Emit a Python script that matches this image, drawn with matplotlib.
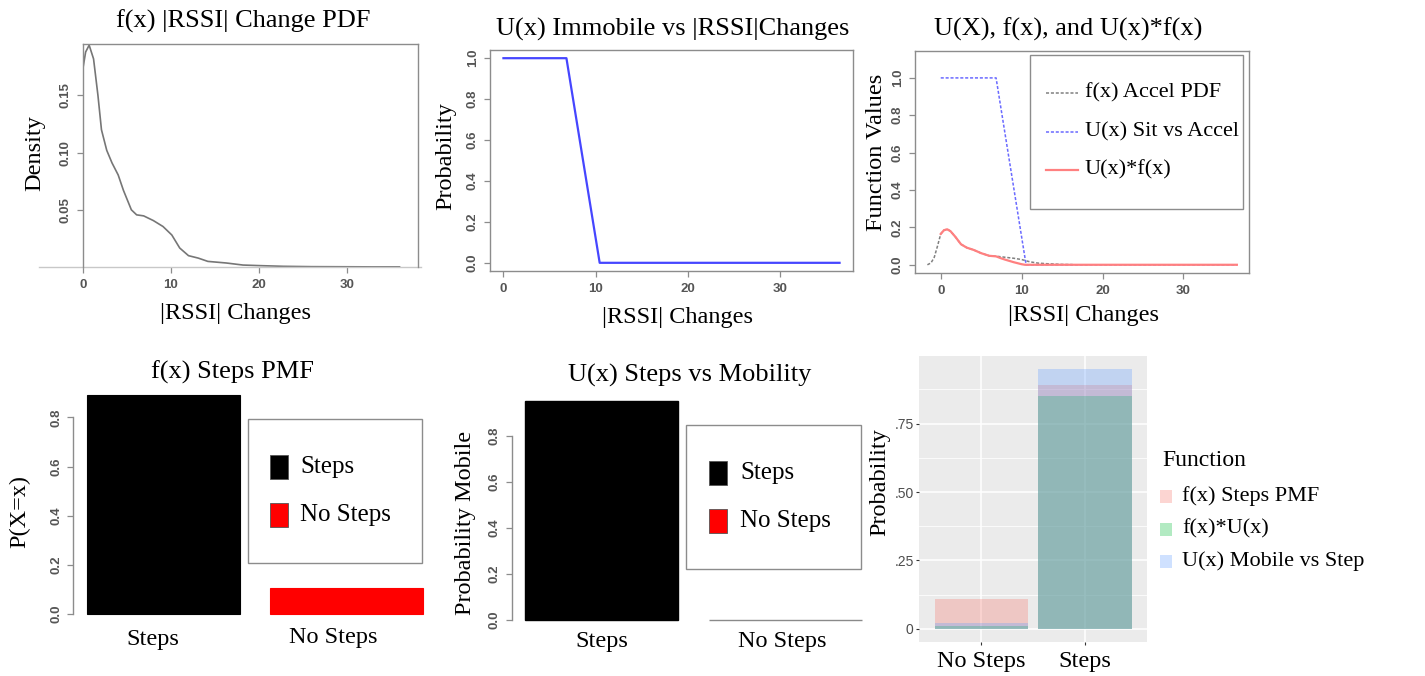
import numpy as np
import matplotlib.pyplot as plt
from matplotlib.patches import Rectangle
from matplotlib.lines import Line2D

W, H = 1425, 676
SERIF = ['Liberation Serif', 'DejaVu Serif']
SANS = ['Liberation Sans', 'DejaVu Sans']

# ---- |RSSI| change density ----
rssi_x = [0.0, 0.3, 0.7, 1.2, 1.7, 2.1, 2.7, 3.3, 4.0, 4.6, 5.5, 6.1, 6.9,
          8.0, 9.1, 10.1, 11.0, 12.0, 13.1, 14.2, 16.3, 18.2, 20.1, 22.8,
          26.0, 30.0, 33.0, 36.0]
rssi_density = [0.174, 0.188, 0.194, 0.182, 0.150, 0.120, 0.102, 0.091,
                0.0805, 0.067, 0.050, 0.0456, 0.0447, 0.0406, 0.0354, 0.028,
                0.0166, 0.0099, 0.0078, 0.0049, 0.0035, 0.0017, 0.0012,
                0.0006, 0.0003, 0.0002, 0.0001, 0.0001]

# ---- U(x) immobile vs |RSSI| changes ----
immobile_x = [0.0, 6.84, 10.45, 36.5]
immobile_p = [1.0, 1.0, 0.0, 0.0]

# ---- accel PDF, U(x) sit vs accel, and their product ----
accel_x = [-1.65, -1.2, -0.8, -0.4, 0.0, 0.4, 0.8, 1.2, 1.8, 2.5, 3.2, 4.1,
           5.0, 6.0, 7.0, 8.0, 9.0, 10.0, 11.0, 12.0, 13.0, 14.0, 15.0, 16.3]
accel_pdf = [0.0, 0.01, 0.04, 0.10, 0.165, 0.185, 0.19, 0.18, 0.15, 0.11,
             0.092, 0.079, 0.062, 0.048, 0.045, 0.040, 0.035, 0.028, 0.016,
             0.009, 0.006, 0.004, 0.002, 0.001]
sit_x = [0.0, 6.84, 10.55, 36.6]
sit_p = [1.0, 1.0, 0.0, 0.0]
prod_x = [0.0, 0.4, 0.8, 1.2, 1.8, 2.5, 3.2, 4.1, 5.0, 6.0, 6.84, 7.5, 8.0,
          9.0, 10.0, 10.4, 36.6]
prod_val = [0.165, 0.185, 0.19, 0.18, 0.15, 0.11, 0.092, 0.079, 0.062,
            0.048, 0.045, 0.034, 0.027, 0.014, 0.003, 0.0, 0.0]

# ---- steps PMF / mobility ----
step_cats = ['Steps', 'No Steps']
step_colors = ['black', 'red']
step_pmf = [0.892, 0.108]
step_mobile = [0.952, 0.0]

# ---- combined functions ----
func_cats = ['No Steps', 'Steps']
func_names = ['f(x) Steps PMF', 'f(x)*U(x)', 'U(x) Mobile vs Step']
func_colors = ['#F8766D', '#00BA38', '#619CFF']
func_pmf = [0.11, 0.89]
func_prod = [0.011, 0.85]
func_mobile = [0.022, 0.95]


def rect(l, t, r, b):
    return [l / W, 1 - b / H, (r - l) / W, (b - t) / H]


def ftext(x, y, s, size=17.5, **kw):
    fig.text(x / W, 1 - y / H, s, fontsize=size, family=SERIF,
             ha=kw.pop('ha', 'center'), va=kw.pop('va', 'center'), **kw)


def r_style(ax, box=True):
    for sp in ax.spines.values():
        sp.set_color('#8c8c8c')
        sp.set_linewidth(1.0)
        sp.set_visible(box)
    ax.tick_params(axis='both', colors='#8c8c8c', labelcolor='#555555',
                   labelsize=9.5, length=4, width=0.9, direction='out')
    ax.tick_params(axis='y', labelrotation=90, pad=4)
    ax.tick_params(axis='x', pad=5)
    for lab in ax.get_xticklabels() + ax.get_yticklabels():
        lab.set_family(SANS)
        lab.set_fontweight('bold')
    for lab in ax.get_yticklabels():
        lab.set_va('center')


fig = plt.figure(figsize=(W / 100, H / 100), dpi=100)

# Panel 1: density of |RSSI| changes
ax1 = fig.add_axes(rect(83, 44, 418, 267))
ax1.plot(rssi_x, rssi_density, color='#767676', lw=1.2)
ax1.axhline(0, xmin=-0.13, xmax=1.01, color='#c8c8c8', lw=1.0, clip_on=False)
ax1.set_xlim(0, 38.1)
ax1.set_ylim(0, 0.195)
ax1.set_xticks([0, 10, 20, 30])
ax1.set_yticks([0.05, 0.10, 0.15])
ax1.set_yticklabels(['0.05', '0.10', '0.15'])
r_style(ax1)
ax1.spines['bottom'].set_visible(False)
ftext(243, 21, 'f(x) |RSSI| Change PDF', size=19)
ftext(235, 313, '|RSSI| Changes')
ftext(35, 153, 'Density', rotation=90)

# Panel 2: U(x) immobile
ax2 = fig.add_axes(rect(490, 50, 853, 271))
ax2.plot(immobile_x, immobile_p, color='#4646ff', lw=1.6)
ax2.set_xlim(-1.46, 37.96)
ax2.set_ylim(-0.04, 1.04)
ax2.set_xticks([0, 10, 20, 30])
ax2.set_yticks([0, 0.2, 0.4, 0.6, 0.8, 1.0])
ax2.set_yticklabels(['0.0', '0.2', '0.4', '0.6', '0.8', '1.0'])
r_style(ax2)
ftext(673, 29, 'U(x) Immobile vs |RSSI|Changes', size=19)
ftext(677, 317, '|RSSI| Changes')
ftext(446, 156, 'Probability', rotation=90)

# Panel 3: U(X), f(x) and the product
ax3 = fig.add_axes(rect(915, 51, 1249, 273))
ax3.plot(accel_x, accel_pdf, color='#808080', lw=1.1, ls=(0, (2, 1.2)))
ax3.plot(sit_x, sit_p, color='#6a6aff', lw=1.1, ls=(0, (2, 1.2)))
ax3.plot(prod_x, prod_val, color='#ff8080', lw=1.6)
ax3.set_xlim(-3.18, 38.1)
ax3.set_ylim(-0.044, 1.144)
ax3.set_xticks([0, 10, 20, 30])
ax3.set_yticks([0, 0.2, 0.4, 0.6, 0.8, 1.0])
ax3.set_yticklabels(['0.0', '0.2', '0.4', '0.6', '0.8', '1.0'])
r_style(ax3)
ftext(1068, 29, 'U(X), f(x), and U(x)*f(x)', size=19)
ftext(1083, 316, '|RSSI| Changes')
ftext(876, 152, 'Function Values', rotation=90)

# Panel 4: steps PMF
ax4 = fig.add_axes(rect(73.2, 386, 436.8, 623))
ax4.bar([0.7, 1.9], step_pmf, width=1.0, color=step_colors,
        edgecolor=step_colors, lw=0.8)
ax4.set_xlim(0.112, 2.488)
ax4.set_ylim(-0.0357, 0.928)
ax4.set_xticks([])
ax4.set_yticks([0, 0.2, 0.4, 0.6, 0.8])
ax4.set_yticklabels(['0.0', '0.2', '0.4', '0.6', '0.8'])
r_style(ax4, box=False)
ax4.spines['left'].set_visible(True)
ax4.spines['left'].set_bounds(0, 0.8)
ax4.patch.set_alpha(0)
ftext(233, 372, 'f(x) Steps PMF', size=19)
ftext(20, 511, 'P(X=x)', rotation=90)
ftext(153, 640, step_cats[0])
ftext(333, 638, step_cats[1])

# Panel 5: U(x) steps vs mobility
ax5 = fig.add_axes(rect(511.5, 391.9, 875.8, 628.8))
ax5.bar([0.7, 1.9], step_mobile, width=1.0, color=step_colors,
        edgecolor=['black', '#8a8a8a'], lw=1.0)
ax5.set_xlim(0.112, 2.488)
ax5.set_ylim(-0.0381, 0.990)
ax5.set_xticks([])
ax5.set_yticks([0, 0.2, 0.4, 0.6, 0.8])
ax5.set_yticklabels(['0.0', '0.2', '0.4', '0.6', '0.8'])
r_style(ax5, box=False)
ax5.spines['left'].set_visible(True)
ax5.spines['left'].set_bounds(0, 0.8)
ax5.patch.set_alpha(0)
ftext(690, 375, 'U(x) Steps vs Mobility', size=19)
ftext(466, 523, 'Probability Mobile', rotation=90)
ftext(602, 642, step_cats[0])
ftext(782, 641, step_cats[1])

# Panel 6: ggplot-style overlaid bars
ax6 = fig.add_axes(rect(919.3, 356, 1147.3, 641.7))
ax6.set_facecolor('#EBEBEB')
pos = np.arange(1, len(func_cats) + 1)
for vals, col in zip([func_pmf, func_prod, func_mobile], func_colors):
    ax6.bar(pos, vals, width=0.9, color=col, alpha=0.3, lw=0, zorder=3)
ax6.set_xlim(0.4, 2.6)
ax6.set_ylim(-0.0475, 0.9975)
ax6.set_yticks([0, 0.25, 0.5, 0.75])
ax6.set_yticklabels(['0', '.25', '.50', '.75'])
ax6.set_yticks([0.125, 0.375, 0.625, 0.875], minor=True)
ax6.set_xticks(pos)
ax6.set_xticklabels(func_cats)
ax6.grid(True, which='major', color='white', lw=1.1, zorder=0)
ax6.grid(True, which='minor', axis='y', color='white', lw=0.55, zorder=0)
ax6.set_axisbelow(True)
for sp in ax6.spines.values():
    sp.set_visible(False)
ax6.tick_params(axis='both', which='major', colors='#333333', length=2.5,
                width=0.8)
ax6.tick_params(axis='y', which='minor', length=0)
ax6.tick_params(axis='y', labelcolor='#4D4D4D', labelsize=10, pad=1.5)
ax6.tick_params(axis='x', labelcolor='black', labelsize=17.5, pad=4)
for lab in ax6.get_yticklabels():
    lab.set_family(SANS)
for lab in ax6.get_xticklabels():
    lab.set_family(SERIF)
ftext(880, 482, 'Probability', rotation=90)

# Legends drawn in figure pixel space
ov = fig.add_axes([0, 0, 1, 1])
ov.set_xlim(0, W)
ov.set_ylim(H, 0)
ov.axis('off')
ov.patch.set_alpha(0)

# legend of panel 3
ov.add_patch(Rectangle((1030, 55), 213, 154, fill=False, ec='#8c8c8c', lw=1.0))
leg3 = [('f(x) Accel PDF', '#808080', (0, (2, 1.2)), 1.1),
        ('U(x) Sit vs Accel', '#6a6aff', (0, (2, 1.2)), 1.1),
        ('U(x)*f(x)', '#ff8080', '-', 1.6)]
for (lab, col, ls, lw), yy in zip(leg3, [93, 132, 170]):
    ov.add_line(Line2D([1046, 1078], [yy, yy], color=col, ls=ls, lw=lw))
    ov.text(1085, yy, lab, fontsize=16, family=SERIF, va='center', ha='left')

# legends of panels 4 and 5
for (l, t, r, b), sq_x, txt_x, rows in [
        ((247.7, 419, 422.3, 562.7), 270, 300, [467, 515]),
        ((686, 425, 860.7, 569.3), 708.7, 740, [473, 521])]:
    ov.add_patch(Rectangle((l, t), r - l, b - t, fill=False, ec='#8c8c8c',
                           lw=1.0))
    for cat, col, yy in zip(step_cats, step_colors, rows):
        ov.add_patch(Rectangle((sq_x, yy - 12), 18, 24, fc=col,
                               ec='#555555', lw=0.6))
        ov.text(txt_x, yy, cat, fontsize=18, family=SERIF, va='center',
                ha='left')

# legend of panel 6
ov.text(1162, 460, 'Function', fontsize=17, family=SERIF, va='center',
        ha='left')
for name, col, yy in zip(func_names, func_colors, [496, 529, 561]):
    ov.add_patch(Rectangle((1160, yy - 6.5), 12, 13, fc=col, alpha=0.3,
                           lw=0))
    ov.text(1182, yy, name, fontsize=16, family=SERIF, va='center',
            ha='left')

fig.savefig('out.png', dpi=100, facecolor='white')
